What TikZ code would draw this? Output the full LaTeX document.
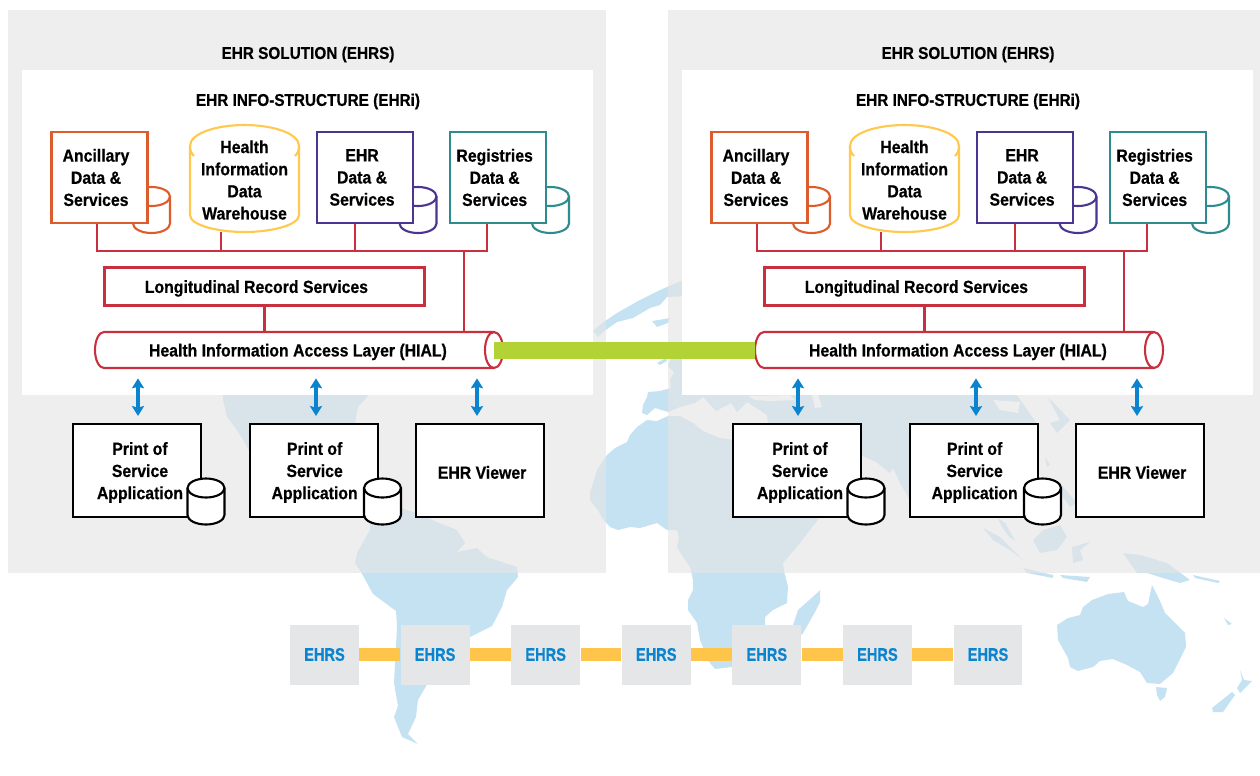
\documentclass[tikz,border=0pt]{standalone}
\usepackage{fontspec}
\setmainfont[FakeStretch=0.9, BoldFeatures={FakeBold=0.5}]{Liberation Sans}
\newfontfamily\ehrsfont[FakeStretch=0.8, BoldFeatures={FakeBold=0.5}]{Liberation Sans}
\usetikzlibrary{positioning, arrows.meta}
\definecolor{mapblue}{HTML}{C5E2F3}
\definecolor{panelgrey}{HTML}{E5E5E5}
\definecolor{ancorange}{HTML}{DD5C2B}
\definecolor{dwhyellow}{HTML}{FFC84F}
\definecolor{ehrpurple}{HTML}{4B3592}
\definecolor{regteal}{HTML}{2F8C8E}
\definecolor{hialred}{HTML}{C8303F}
\definecolor{linkgreen}{HTML}{B2D235}
\definecolor{arrowblue}{HTML}{0A84CE}
\definecolor{ehrsgrey}{HTML}{E4E6E8}
\definecolor{barorange}{HTML}{FFC54A}
\tikzset{
    smalldb/.pic={
        \draw[draw=#1, fill=white, line width=1.2pt] (-18.5,-13.5) arc[start angle=180, end angle=0, x radius=0.37cm, y radius=0.19cm] -- (18.5,13.5) arc[start angle=0, end angle=-180, x radius=0.37cm, y radius=0.19cm] -- cycle;
        \draw[draw=#1, line width=1.2pt] (-18.5,-13.5) arc[start angle=180, end angle=360, x radius=0.37cm, y radius=0.19cm];
    }
}

\begin{document}
\begin{tikzpicture}[
    x=0.02cm, y=-0.02cm,
    every node/.style={inner sep=0pt, align=center, font=\fontsize{10}{12.6}\selectfont\bfseries},
    every label/.style={yshift=-1.1pt},
    title/.style={font=\fontsize{9.7}{12}\selectfont\bfseries},
    landmass/.style={fill=mapblue, draw=none},
    panel/.style={fill=panelgrey, opacity=0.64},
    databox/.style={draw=#1, rectangle, fill=white, line width=1.2pt, minimum width=1.92cm, minimum height=1.82cm},
    appbox/.style={draw=black, rectangle, fill=white, line width=1.2pt, minimum width=2.56cm, minimum height=1.86cm},
    redline/.style={draw=hialred, line width=1.2pt},
    updown/.style={{Stealth[length=5.6pt, width=6.8pt, inset=0.8pt]}-{Stealth[length=5.6pt, width=6.8pt, inset=0.8pt]}, draw=arrowblue, line width=2.2pt, shorten <=0.2cm, shorten >=0.14cm},
    ehrsbox/.style={rectangle, fill=ehrsgrey, text=arrowblue, font=\fontsize{10.4}{12}\ehrsfont\bfseries, minimum width=1.38cm, minimum height=1.2cm},
    ehrslink/.style={draw=barorange, line width=0.26cm}
]
\useasboundingbox (0,0) rectangle (1260,775);

\fill[landmass] (593,331) -- (602,323) -- (617,313) -- (640,300) -- (660,290) -- (690,277) -- (690,296) -- (667,297) -- (660,305) -- (650,308) -- (633,318) -- (617,322) -- (603,332) -- (598,337) -- cycle;
\fill[landmass] (652,321) -- (670,318) -- (668,323) -- (657,327) -- cycle;
\fill[landmass] (657,363) -- (666,358) -- (667,361) -- (660,365) -- cycle;
\fill[landmass] (223,390) -- (223,400) -- (227,417) -- (237,430) -- (245,443) -- (250,452) -- (300,440) -- (355,423) -- (358,407) -- (367,397) -- (370,390) -- cycle;
\fill[landmass] (385,515) -- (400,508) -- (417,513) -- (437,522) -- (457,530) -- (465,543) -- (457,552) -- (477,548) -- (487,557) -- (517,567) -- (518,577) -- (507,590) -- (502,607) -- (492,626) -- (470,637) -- (440,660) -- (425,688) -- (418,700) -- (416,717) -- (408,734) -- (418,744) -- (402,737) -- (394,717) -- (398,706) -- (394,683) -- (397,626) -- (396,611) -- (373,594) -- (361,572) -- (355,563) -- (357,553) -- (370,530) -- (370,522) -- cycle;
\fill[landmass] (690,350) -- (672,356) -- (668,366) -- (674,372) -- (670,380) -- (671,388) -- (660,391) -- (648,392) -- (647,397) -- (643,405) -- (642,413) -- (647,415) -- (655,408) -- (668,412) -- (680,407) -- (695,403) -- (703,397) -- (716,411) -- (731,403) -- (737,412) -- (747,402) -- (767,415) -- (768,423) -- (768,430) -- (735,440) -- (720,438) -- (703,431) -- (693,423) -- (680,416) -- (668,416) -- (657,421) -- (647,420) -- (637,427) -- (630,435) -- (627,442) -- (615,448) -- (607,455) -- (597,470) -- (595,477) -- (590,492) -- (590,500) -- (598,510) -- (602,518) -- (610,527) -- (618,530) -- (630,527) -- (640,528) -- (657,523) -- (667,530) -- (677,530) -- (679,538) -- (677,547) -- (683,557) -- (690,567) -- (693,580) -- (693,590) -- (688,600) -- (688,610) -- (697,623) -- (700,640) -- (705,652) -- (710,663) -- (715,669) -- (732,667) -- (760,650) -- (765,625) -- (765,617) -- (773,610) -- (787,603) -- (788,587) -- (784,571) -- (783,563) -- (800,543) -- (820,517) -- (860,455) -- (876,462) -- (890,473) -- (893,468) -- (900,483) -- (908,497) -- (915,515) -- (960,515) -- (1000,500) -- (1037,460) -- (1037,424) -- (1017,395) -- (1000,350) -- cycle;
\fill[white] (748,396) -- (790,395) -- (795,400) -- (770,401) -- (755,400) -- cycle;
\fill[white] (812,395) -- (818,395) -- (822,407) -- (815,408) -- cycle;
\fill[white] (993,400) -- (1020,402) -- (1018,413) -- (1000,410) -- cycle;
\fill[landmass] (820,590) -- (820,602) -- (815,612) -- (802,635) -- (793,625) -- (798,610) -- (807,602) -- (817,593) -- cycle;
\fill[landmass] (1048,397) -- (1070,420) -- (1057,433) -- (1050,423) -- (1060,420) -- (1053,407) -- cycle;
\fill[landmass] (1045,457) -- (1050,465) -- (1047,467) -- cycle;
\fill[landmass] (1060,483) -- (1077,503) -- (1070,507) -- (1063,497) -- cycle;
\fill[landmass] (998,518) -- (1005,523) -- (1015,540) -- (1010,538) -- (1002,527) -- cycle;
\fill[landmass] (983,528) -- (1000,537) -- (1020,557) -- (1023,560) -- (1010,550) -- (993,540) -- cycle;
\fill[landmass] (1033,540) -- (1043,530) -- (1060,525) -- (1067,537) -- (1057,550) -- (1040,553) -- cycle;
\fill[landmass] (1072,547) -- (1090,542) -- (1080,550) -- (1083,560) -- (1073,563) -- cycle;
\fill[landmass] (1023,568) -- (1053,575) -- (1053,578) -- (1027,573) -- cycle;
\fill[landmass] (1060,575) -- (1090,577) -- (1087,582) -- (1063,578) -- cycle;
\fill[landmass] (1123,553) -- (1140,555) -- (1167,563) -- (1190,580) -- (1180,583) -- (1163,578) -- (1147,573) -- (1137,573) -- cycle;
\fill[landmass] (1193,575) -- (1220,581) -- (1218,583) -- (1195,578) -- cycle;
\fill[landmass] (1057,625) -- (1068,618) -- (1080,615) -- (1083,607) -- (1092,600) -- (1108,594) -- (1124,592) -- (1128,601) -- (1143,607) -- (1148,604) -- (1152,585) -- (1160,601) -- (1165,613) -- (1185,633) -- (1186,647) -- (1173,673) -- (1160,684) -- (1147,683) -- (1140,672) -- (1127,665) -- (1113,659) -- (1100,661) -- (1093,667) -- (1078,671) -- (1070,667) -- (1068,658) -- (1058,640) -- cycle;
\fill[landmass] (1156,687) -- (1167,688) -- (1165,697) -- (1160,701) -- (1157,695) -- cycle;
\fill[landmass] (1240,670) -- (1244,680) -- (1252,681) -- (1240,693) -- (1237,688) -- (1242,680) -- cycle;
\fill[landmass] (1232,692) -- (1235,695) -- (1223,712) -- (1213,712) -- (1212,708) -- cycle;
\fill[landmass] (1224,618) -- (1232,624) -- (1228,625) -- cycle;

\fill[panel] (8,10) rectangle (606,573);
\fill[panel] (668,10) rectangle (1260,573);

\foreach \s/\dx in {a/0, b/660} {
\begin{scope}[xshift=\dx*0.02cm]
\fill[white] (22,70) rectangle (593,395);
\node[title] (solution\s) at (308,54.5) {EHR SOLUTION (EHRS)};
\node[title, below=0.94cm of solution\s.center, anchor=center] (infra\s) {EHR INFO-STRUCTURE (EHRi)};

\pic at (151.5,210) {smalldb=ancorange};
\pic at (418,210) {smalldb=ehrpurple};
\pic at (550.5,210) {smalldb=regteal};
\node[databox=ancorange, label={[xshift=-2pt, yshift=1.1pt]center:Ancillary\\Data \&\\Services}] (anc\s) at (99.5,177.5) {};
\node[databox=ehrpurple, right=3.35cm of anc\s, label={[xshift=-1.7pt, yshift=1.1pt]center:EHR\\Data \&\\Services}] (ehr\s) {};
\node[databox=regteal, right=0.69cm of ehr\s, label={[xshift=-1.7pt, yshift=1.1pt]center:Registries\\Data \&\\Services}] (reg\s) {};
\draw[draw=dwhyellow, fill=white, line width=1.2pt] (190,146) .. controls (190,133) and (217,125) .. (244.5,125) .. controls (272,125) and (299,133) .. (299,146) -- (299,215) .. controls (299,225) and (272,232) .. (244.5,232) .. controls (217,232) and (190,225) .. (190,215) -- cycle;
\draw[draw=dwhyellow, line width=1.2pt] (190,146) .. controls (190,150) and (191,153) .. (194,156);
\draw[draw=dwhyellow, line width=1.2pt] (299,146) .. controls (299,150) and (298,153) .. (295,156);
\node[minimum width=2.18cm, minimum height=2.08cm] (dwh\s) at (244.5,180) {Health\\Information\\Data\\Warehouse};

\node[draw=hialred, rectangle, line width=1.2pt, minimum width=6.4cm, minimum height=0.76cm, label={[xshift=-4.6pt]center:Longitudinal Record Services}] (lrs\s) at (264.5,286.5) {};
\draw[draw=hialred, fill=white, line width=1.2pt] (104,332) arc[start angle=90, end angle=270, x radius=0.18cm, y radius=0.36cm] -- (494,368) arc[start angle=-90, end angle=90, x radius=0.18cm, y radius=0.36cm] -- cycle;
\draw[draw=hialred, line width=1.2pt] (494,332) arc[start angle=90, end angle=270, x radius=0.18cm, y radius=0.36cm];
\node[minimum width=8.16cm, minimum height=0.72cm, label={[xshift=-0.6pt]center:Health Information Access Layer (HIAL)}] (hial\s) at (299,350) {};

\coordinate (b1\s) at (97,251);
\coordinate (b2\s) at (221,251);
\coordinate (b3\s) at (355,251);
\coordinate (b4\s) at (464,251);
\coordinate (b5\s) at (487,251);
\draw[redline] (anc\s.south -| b1\s) -- (b1\s) -- (b5\s) -- (reg\s.south -| b5\s);
\draw[redline] (dwh\s.south -| b2\s) -- (b2\s);
\draw[redline] (ehr\s.south -| b3\s) -- (b3\s);
\draw[redline] (b4\s) -- (hial\s.north -| b4\s);
\draw[redline] (lrs\s.south) -- (hial\s.north -| lrs\s.south);

\node[appbox, label={[xshift=1.7pt]center:Print of\\Service\\Application}] (appa\s) at (137,470.5) {};
\node[appbox, right=0.93cm of appa\s, label={[xshift=0.6pt]center:Print of\\Service\\Application}] (appb\s) {};
\node[appbox, right=0.73cm of appb\s, label={[xshift=1.1pt]center:EHR Viewer}] (view\s) {};
\pic at (206,501.5) {smalldb=black};
\pic at (382.5,501.5) {smalldb=black};

\coordinate (c1\s) at (138,400);
\coordinate (c2\s) at (316,400);
\coordinate (c3\s) at (477,400);
\draw[updown] (hial\s.south -| c1\s) -- (appa\s.north -| c1\s);
\draw[updown] (hial\s.south -| c2\s) -- (appb\s.north -| c2\s);
\draw[updown] (hial\s.south -| c3\s) -- (view\s.north -| c3\s);
\end{scope}
}

\draw[draw=linkgreen, line width=0.34cm, shorten <=-0.18cm] (hiala.east) -- (hialb.west);

\node[ehrsbox] (e1) at (324.5,654.5) {EHRS};
\node[ehrsbox, right=0.818cm of e1] (e2) {EHRS};
\node[ehrsbox, right=0.818cm of e2] (e3) {EHRS};
\node[ehrsbox, right=0.818cm of e3] (e4) {EHRS};
\node[ehrsbox, right=0.818cm of e4] (e5) {EHRS};
\node[ehrsbox, right=0.818cm of e5] (e6) {EHRS};
\node[ehrsbox, right=0.818cm of e6] (e7) {EHRS};

\draw[ehrslink] (e1) -- (e2);
\draw[ehrslink] (e2) -- (e3);
\draw[ehrslink] (e3) -- (e4);
\draw[ehrslink] (e4) -- (e5);
\draw[ehrslink] (e5) -- (e6);
\draw[ehrslink] (e6) -- (e7);
\end{tikzpicture}
\end{document}
